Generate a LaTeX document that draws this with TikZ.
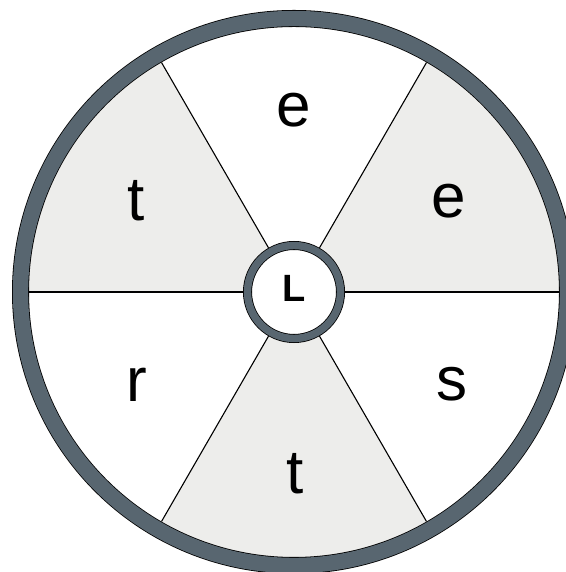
\documentclass[tikz,border=0pt]{standalone}
\usepackage{fontspec}
\newfontfamily\wheelfont{Liberation Sans}
\newfontfamily\wheelbold{Liberation Sans Bold}
\usetikzlibrary{calc}
\definecolor{ringgray}{RGB}{88,102,112}
\definecolor{sectorgray}{RGB}{237,237,235}
\tikzset{
  wheel/.style={circle,draw=black,line width=0.8pt,double=ringgray,double distance=15.4pt,
    minimum size=547pt,inner sep=0pt,outer sep=-8.5pt},
  hubring/.style={circle,draw=black,line width=0.8pt,double=ringgray,double distance=7.4pt,
    fill=white,minimum size=93pt,inner sep=0pt,outer sep=4.5pt},
  spoke/.style={draw=black,line width=1.1pt},
  sector/.style={fill=sectorgray},
  letter/.style={anchor=base,inner sep=0pt,font=\wheelfont\fontsize{62}{62}\selectfont},
  hublabel/.style={anchor=base,inner sep=0pt,font=\wheelbold\fontsize{38}{38}\selectfont},
}
\begin{document}
\begin{tikzpicture}[x=1pt,y=1pt]
\useasboundingbox (0,0) rectangle (565,572);
\coordinate (c) at (294,280);
% shaded sectors
\foreach \a in {0,120,240}
  \fill[sector] (c) -- +(\a:270) arc[start angle=\a,end angle=\a+60,radius=270] -- cycle;
\node[wheel] (rim) at (c) {};
\node[hubring] (hub) at (c) {};
\node[hublabel] (lbl) at (294.5,270) {L};
\foreach \a in {0,60,...,300}
  \draw[spoke] (hub.\a) -- (rim.\a);
\node[letter] (top) at (294,445) {e};
\node[letter] (upleft) at (136,351) {t};
\node[letter] (upright) at (449,354) {e};
\node[letter] (lowleft) at (137,170) {r};
\node[letter] (lowright) at (452,171) {s};
\node[letter] (bottom) at (295,78) {t};
\end{tikzpicture}
\end{document}
